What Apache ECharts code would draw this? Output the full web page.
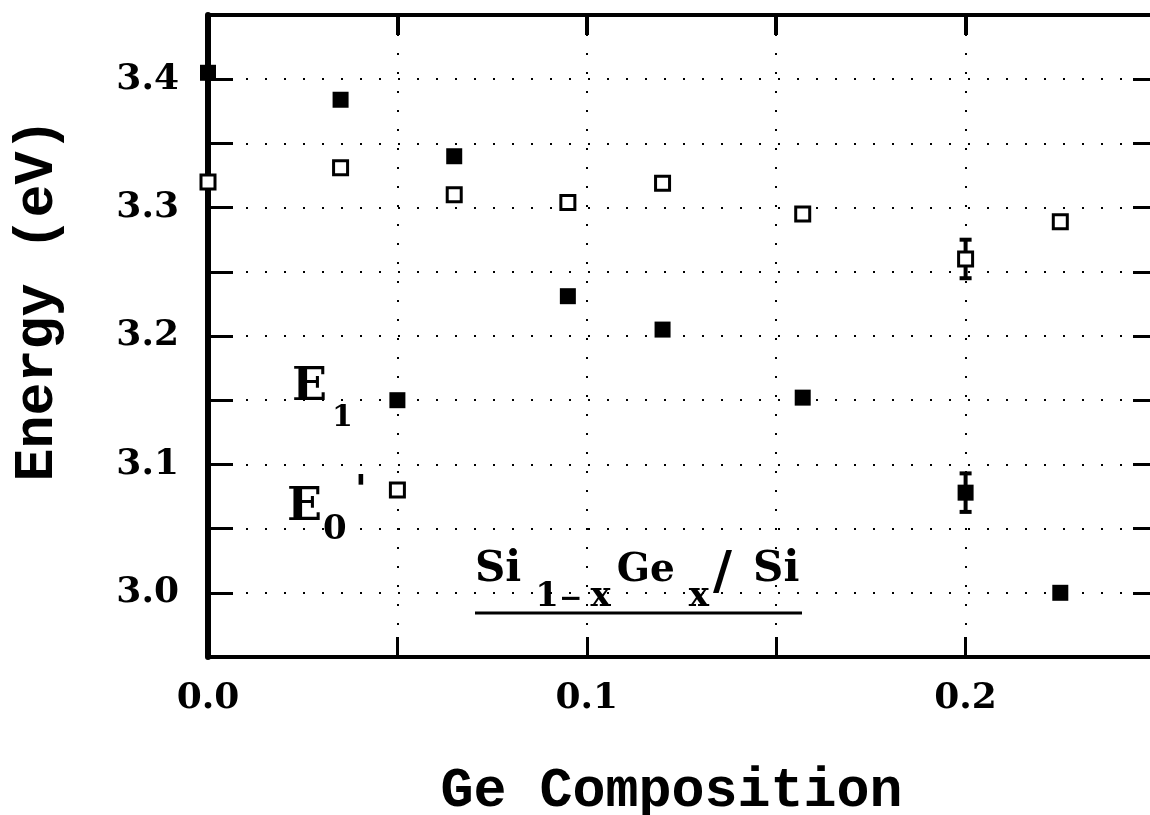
<!DOCTYPE html>
<html><head><meta charset="utf-8">
<script src="https://cdn.jsdelivr.net/npm/echarts@6/dist/echarts.min.js"></script>
<style>html,body{margin:0;padding:0;background:#fff}#c{width:1150px;height:815px}</style>
</head><body><div id="c"></div>
<script>
// E1 (filled squares)
const e1X = [0, 0.035, 0.065, 0.095, 0.12, 0.157, 0.2, 0.225];
const e1Y = [3.405, 3.384, 3.340, 3.231, 3.205, 3.152, 3.078, 3.000];
// E0' (open squares)
const e0X = [0, 0.035, 0.065, 0.095, 0.12, 0.157, 0.2, 0.225];
const e0Y = [3.320, 3.331, 3.310, 3.304, 3.319, 3.295, 3.260, 3.289];
// error bars
const errX = [0.2, 0.2];
const errY = [3.260, 3.078];
const errD = [0.015, 0.015];
// key markers
const keyFilledX = [0.05]; const keyFilledY = [3.150];
const keyOpenX = [0.05];   const keyOpenY = [3.080];
// tick labels
const xLabelVals = [0, 0.1, 0.2];
const xLabelText = ['0.0', '0.1', '0.2'];
const yLabelVals = [3.0, 3.1, 3.2, 3.3, 3.4];
const yLabelText = ['3.0', '3.1', '3.2', '3.3', '3.4'];

function lab(vals, texts) {
  return function (v) {
    for (let i = 0; i < vals.length; i++) if (Math.abs(v - vals[i]) < 1e-6) return texts[i];
    return '';
  };
}
const pts = (xs, ys) => xs.map((x, i) => [x, ys[i]]);

const chart = echarts.init(document.getElementById('c'), null, {renderer: 'canvas'});
const black = '#000';
const serif = 'DejaVu Serif';
const dotted = {show: true, lineStyle: {color: black, width: 2, type: [2, 17]}};
const tickFont = {fontFamily: serif, fontWeight: 'bold', fontSize: 36, color: black};
const titleFont = {fontFamily: 'Liberation Mono', fontWeight: 'bold', fontSize: 55, color: black};
function tok(fs, pad) {
  return {fontFamily: serif, fontWeight: 'bold', fontSize: fs, lineHeight: fs, padding: pad, verticalAlign: 'bottom', fill: black};
}

const option = {
  backgroundColor: '#fff',
  animation: false,
  grid: {left: 208, top: 15, width: 947, height: 642, containLabel: false, outerBoundsMode: 'none'},
  xAxis: [{
    type: 'value', min: 0, max: 0.25, interval: 0.05, position: 'bottom',
    axisLine: {show: true, onZero: false, lineStyle: {color: black, width: 4}},
    axisTick: {show: true, inside: true, length: 20, lineStyle: {color: black, width: 3}},
    axisLabel: Object.assign({show: true, margin: 24, formatter: lab(xLabelVals, xLabelText), showMinLabel: true, showMaxLabel: true}, tickFont),
    splitLine: dotted,
    name: 'Ge Composition', nameLocation: 'middle', nameGap: 108,
    nameTextStyle: Object.assign({padding: [0, 20, 0, 0]}, titleFont)
  }, {
    type: 'value', min: 0, max: 0.25, interval: 0.05, position: 'top',
    axisLine: {show: true, onZero: false, lineStyle: {color: black, width: 4}},
    axisTick: {show: true, inside: true, length: 20, lineStyle: {color: black, width: 4}},
    axisLabel: {show: false}, splitLine: {show: false}
  }],
  yAxis: [{
    type: 'value', min: 2.95, max: 3.45, interval: 0.05, position: 'left',
    axisLine: {show: true, onZero: false, lineStyle: {color: black, width: 6}},
    axisTick: {show: true, inside: true, length: 25, lineStyle: {color: black, width: 3}},
    axisLabel: Object.assign({show: true, margin: 29, formatter: lab(yLabelVals, yLabelText)}, tickFont),
    splitLine: dotted,
    name: 'Energy (eV)', nameLocation: 'middle', nameGap: 142, nameRotate: 90,
    nameTextStyle: Object.assign({padding: [0, 0, 0, 72]}, titleFont)
  }, {
    type: 'value', min: 2.95, max: 3.45, interval: 0.05, position: 'right',
    axisLine: {show: true, onZero: false, lineStyle: {color: black, width: 4}},
    axisTick: {show: true, inside: true, length: 22, lineStyle: {color: black, width: 3}},
    axisLabel: {show: false}, splitLine: {show: false}
  }],
  series: [{
    type: 'custom', name: 'error', xAxisIndex: 0, yAxisIndex: 0, z: 2,
    data: errX.map((x, i) => [x, errY[i], errD[i]]),
    renderItem: function (params, api) {
      const x = api.value(0), y = api.value(1), d = api.value(2);
      const t = api.coord([x, y + d]), b = api.coord([x, y - d]);
      const w = 6, st = {stroke: black, lineWidth: 4};
      return {type: 'group', children: [
        {type: 'line', shape: {x1: t[0], y1: t[1], x2: b[0], y2: b[1]}, style: st},
        {type: 'line', shape: {x1: t[0] - w, y1: t[1], x2: t[0] + w, y2: t[1]}, style: st},
        {type: 'line', shape: {x1: b[0] - w, y1: b[1], x2: b[0] + w, y2: b[1]}, style: st}
      ]};
    }
  }, {
    type: 'scatter', name: 'E1', z: 3, symbol: 'rect', symbolSize: 16,
    itemStyle: {color: black, opacity: 1}, data: pts(e1X, e1Y)
  }, {
    type: 'scatter', name: "E0'", z: 3, symbol: 'rect', symbolSize: 14,
    itemStyle: {color: '#fff', borderColor: black, borderWidth: 3, opacity: 1}, data: pts(e0X, e0Y)
  }, {
    type: 'scatter', name: 'E1 key', z: 3, symbol: 'rect', symbolSize: 16,
    itemStyle: {color: black, opacity: 1}, data: pts(keyFilledX, keyFilledY)
  }, {
    type: 'scatter', name: "E0' key", z: 3, symbol: 'rect', symbolSize: 14,
    itemStyle: {color: '#fff', borderColor: black, borderWidth: 3, opacity: 1}, data: pts(keyOpenX, keyOpenY)
  }],
  graphic: [
    {
      type: 'text', left: 475, top: 548, z: 10,
      style: {
        text: '{m|Si}{a|1}{b|\u2212}{c|x}{g|Ge}{x|x}{sl|/}{m2|Si}',
        rich: {
          m: tok(42, [0, 0, 23, 0]),
          a: tok(34, [0, 0, 0, 14]),
          b: tok(28, [0, 0, 0, 0]),
          c: tok(34, [0, 0, 0, 8]),
          g: tok(39, [0, 0, 24, 6]),
          x: tok(34, [0, 0, 0, 14]),
          sl: tok(52, [0, 0, 14, 4]),
          m2: tok(42, [0, 0, 23, 21])
        }
      }
    },
    {type: 'line', z: 10, shape: {x1: 475, y1: 613, x2: 802, y2: 613}, style: {stroke: black, lineWidth: 3}},
    {
      type: 'text', left: 292, top: 365, z: 10,
      style: {
        text: '{e|E}{s|1}',
        rich: {
          e: tok(46, [0, 0, 22, 0]),
          s: tok(30, [0, 0, 0, 5])
        }
      }
    },
    {
      type: 'text', left: 287, top: 473, z: 10,
      style: {
        text: "{e|E}{s|0}{p|'}",
        rich: {
          e: tok(46, [0, 0, 22, 0]),
          s: tok(34, [0, 0, 6, 1]),
          p: tok(40, [0, 0, 40, 8])
        }
      }
    }
  ]
};
chart.setOption(option);
</script>
</body></html>
